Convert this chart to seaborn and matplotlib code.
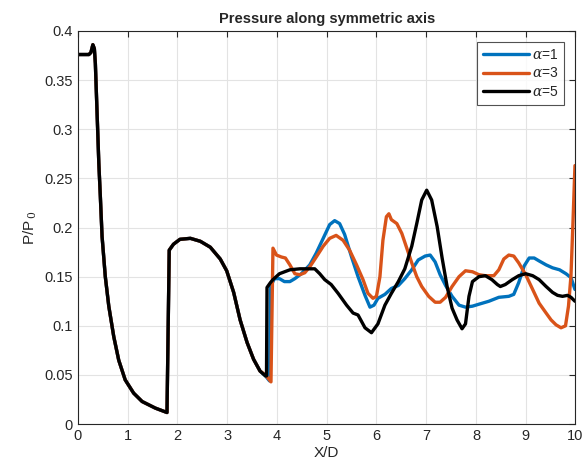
import numpy as np
import pandas as pd
import matplotlib
matplotlib.use("Agg")
import matplotlib.pyplot as plt
import seaborn as sns

# shared upstream segment (all three cases coincide)
x_common = [0.0, 0.22, 0.26, 0.30, 0.33, 0.35, 0.385, 0.42, 0.45, 0.485, 0.55, 0.62, 0.72, 0.82, 0.95,
            1.12, 1.29, 1.555, 1.79, 1.835, 1.92, 2.05, 2.26, 2.46, 2.66, 2.86, 2.99, 3.13, 3.26,
            3.40, 3.53, 3.66]
p_common = [0.376, 0.376, 0.378, 0.386, 0.382, 0.367, 0.316, 0.265, 0.232, 0.191, 0.150, 0.120, 0.089, 0.065, 0.045,
            0.0315, 0.023, 0.0163, 0.0118, 0.177, 0.183, 0.188, 0.189, 0.186, 0.180, 0.168, 0.156, 0.134, 0.106,
            0.083, 0.066, 0.054]

x_a1 = [3.77, 3.85, 3.87, 3.95, 4.05, 4.15, 4.26, 4.36, 4.49, 4.66, 4.79, 4.93, 5.06, 5.16, 5.26, 5.36, 5.5,
        5.63, 5.77, 5.87, 5.95, 6.03, 6.17, 6.3, 6.44, 6.57, 6.71, 6.84, 6.98, 7.08, 7.18, 7.28, 7.39, 7.52,
        7.66, 7.79, 7.93, 8.06, 8.26, 8.46, 8.66, 8.76, 8.86, 8.97, 9.07, 9.17, 9.27, 9.41, 9.54, 9.68, 9.81,
        9.91, 9.99]
p_a1 = [0.049, 0.044, 0.140, 0.148, 0.148, 0.145, 0.145, 0.148, 0.153, 0.162, 0.174, 0.189, 0.203, 0.207, 0.204, 0.193, 0.170,
        0.150, 0.131, 0.119, 0.121, 0.128, 0.132, 0.138, 0.141, 0.148, 0.157, 0.167, 0.171, 0.172, 0.165, 0.152, 0.141, 0.130,
        0.121, 0.119, 0.120, 0.122, 0.125, 0.129, 0.130, 0.132, 0.144, 0.161, 0.169, 0.169, 0.166, 0.162, 0.159, 0.157, 0.153,
        0.149, 0.137]

x_a3 = [3.77, 3.88, 3.92, 3.99, 4.09, 4.17, 4.26, 4.36, 4.46, 4.56, 4.66, 4.79, 4.93, 5.06, 5.19, 5.33, 5.46,
        5.6, 5.73, 5.83, 5.93, 6.0, 6.07, 6.13, 6.2, 6.25, 6.3, 6.41, 6.51, 6.61, 6.71, 6.81, 6.91, 7.05,
        7.18, 7.28, 7.39, 7.52, 7.66, 7.79, 7.93, 8.06, 8.19, 8.36, 8.46, 8.56, 8.66, 8.76, 8.86, 9.0, 9.14,
        9.27, 9.41, 9.51, 9.61, 9.71, 9.8, 9.86, 9.91, 9.95, 9.99]
p_a3 = [0.050, 0.043, 0.179, 0.172, 0.170, 0.169, 0.162, 0.153, 0.152, 0.154, 0.160, 0.170, 0.181, 0.189, 0.192, 0.187, 0.177,
        0.162, 0.147, 0.133, 0.128, 0.130, 0.150, 0.187, 0.211, 0.214, 0.208, 0.204, 0.194, 0.179, 0.164, 0.150, 0.140, 0.130,
        0.124, 0.124, 0.129, 0.140, 0.150, 0.156, 0.155, 0.152, 0.151, 0.151, 0.157, 0.168, 0.172, 0.171, 0.164, 0.152, 0.137,
        0.123, 0.113, 0.106, 0.101, 0.098, 0.100, 0.120, 0.151, 0.205, 0.263]

x_a5 = [3.77, 3.79, 3.80, 3.87, 3.92, 4.05, 4.26, 4.46, 4.66, 4.76, 4.86, 4.96, 5.09, 5.23, 5.4, 5.53, 5.63,
        5.77, 5.9, 6.03, 6.17, 6.3, 6.44, 6.57, 6.71, 6.81, 6.91, 7.01, 7.11, 7.22, 7.32, 7.42, 7.52, 7.62,
        7.72, 7.79, 7.86, 7.93, 8.06, 8.19, 8.32, 8.43, 8.49, 8.59, 8.73, 8.86, 9.0, 9.14, 9.27, 9.41, 9.54,
        9.64, 9.74, 9.84, 9.91, 9.99]
p_a5 = [0.049, 0.049, 0.139, 0.144, 0.147, 0.153, 0.157, 0.158, 0.158, 0.158, 0.153, 0.147, 0.142, 0.133, 0.121, 0.113, 0.111,
        0.098, 0.093, 0.102, 0.121, 0.133, 0.145, 0.158, 0.181, 0.204, 0.228, 0.238, 0.228, 0.201, 0.169, 0.140, 0.118, 0.106,
        0.097, 0.102, 0.130, 0.145, 0.150, 0.151, 0.147, 0.142, 0.140, 0.142, 0.147, 0.151, 0.153, 0.151, 0.147, 0.140, 0.134,
        0.131, 0.130, 0.131, 0.129, 0.125]

labels = [r"$\alpha$=1", r"$\alpha$=3", r"$\alpha$=5"]
colors = ["#0072BD", "#D95319", "#000000"]

frames = []
for lab, xs, ps in zip(labels, [x_a1, x_a3, x_a5], [p_a1, p_a3, p_a5]):
    frames.append(pd.DataFrame({"x": x_common + xs, "p": p_common + ps, "case": lab}))
df = pd.concat(frames, ignore_index=True)

sns.set_style("whitegrid")
plt.rcParams["font.family"] = ["Liberation Sans", "DejaVu Sans"]
plt.rcParams["mathtext.fontset"] = "dejavuserif"

fig = plt.figure(figsize=(5.86, 4.76), dpi=100)
ax = fig.add_axes([0.133, 0.109, 0.849, 0.826])

sns.lineplot(data=df, x="x", y="p", hue="case", palette=colors, hue_order=labels,
             estimator=None, sort=False, linewidth=2.4, ax=ax)
for ln in ax.get_lines():
    ln.set_solid_joinstyle("round")
    ln.set_solid_capstyle("round")

ax.set_xlim(0, 10)
ax.set_ylim(0, 0.4)
ax.set_xticks(range(0, 11))
yt = [0, 0.05, 0.1, 0.15, 0.2, 0.25, 0.3, 0.35, 0.4]
ax.set_yticks(yt)
ax.set_yticklabels(["0", "0.05", "0.1", "0.15", "0.2", "0.25", "0.3", "0.35", "0.4"])
ax.tick_params(axis="both", labelsize=10.5, colors="#262626", direction="in", length=4,
               top=True, right=True, width=0.8)
ax.grid(True, color="#e3e3e3", linewidth=0.8)
for s in ax.spines.values():
    s.set_color("#262626")
    s.set_linewidth(0.8)

ax.set_title("Pressure along symmetric axis", fontsize=10.5, fontweight="bold", pad=6)
ax.set_xlabel("X/D", fontsize=11, color="#262626", labelpad=2)
ax.set_ylabel(r"P/P$_{\,0}$", fontsize=11, color="#262626", labelpad=4)

leg = ax.legend(loc="upper right", fontsize=10, frameon=True, fancybox=False,
                edgecolor="#262626", handlelength=3.3, handletextpad=0.25,
                labelspacing=0.35, borderpad=0.4, borderaxespad=0.8, title=None)
leg.get_frame().set_linewidth(0.8)

fig.savefig("out.png", dpi=100)
